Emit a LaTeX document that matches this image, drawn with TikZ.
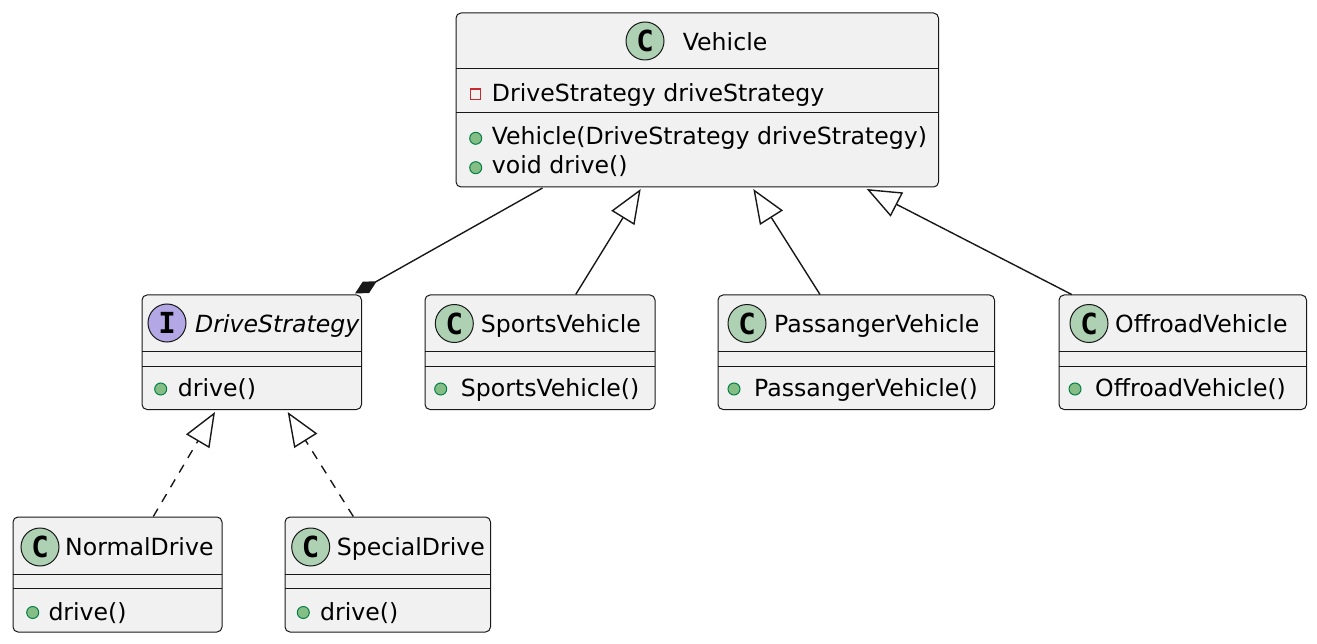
\documentclass[tikz,border=0pt]{standalone}
\usepackage{fontspec}
\setmainfont{DejaVu Sans}
\newfontfamily\markfont{DejaVu Sans Mono}
\usetikzlibrary{arrows.meta,calc}
\definecolor{boxfill}{HTML}{F1F1F1}
\definecolor{linec}{HTML}{181818}
\definecolor{cfill}{HTML}{ADD1B2}
\definecolor{ifill}{HTML}{B4A7E5}
\definecolor{pubfill}{HTML}{84BE84}
\definecolor{publine}{HTML}{038048}
\definecolor{privline}{HTML}{C82930}
\begin{document}
\begin{tikzpicture}[x=1pt,y=-1pt,
 classbox/.style={draw=linec, fill=boxfill, rounded corners=5pt, line width=1pt, inner sep=0pt, anchor=north west},
 sep/.style={draw=linec, line width=1pt},
 badge/.style={circle, draw=linec, line width=1pt, minimum size=38pt, inner sep=0pt, font=\markfont\bfseries\fontsize{29}{29}\selectfont},
 cbadge/.style={badge, fill=cfill},
 ibadge/.style={badge, fill=ifill},
 txt/.style={anchor=base west, inner sep=0pt, font=\fontsize{23.6}{28}\selectfont, text=black},
 pub/.style={circle, draw=publine, fill=pubfill, minimum size=12pt, inner sep=0pt, line width=1pt},
 priv/.style={rectangle, draw=privline, minimum size=10.5pt, inner sep=0pt, line width=1.2pt},
 conn/.style={draw=linec, line width=1.4pt},
 gen/.style={conn, -{Triangle[open, length=34pt, width=27pt]}},
 real/.style={gen, dash pattern=on 9pt off 8pt},
 comp/.style={conn, -{Diamond[length=25pt, width=13pt, fill=linec]}},
]
\useasboundingbox (0,0) rectangle (1317,644);

% ---------- Vehicle ----------
\node[classbox, minimum width=482.5pt, minimum height=174pt] (vehicle) at (455.5,12.5) {};
\draw[sep] (455.5,69) -- (938,69);
\draw[sep] (455.5,113) -- (938,113);
\node[cbadge] (vehB) at (645,41) {C};
\node[txt] (vehT) at (682.7,51) {Vehicle};
\node[priv] (vehA1m) at (475.5,94.3) {};
\node[txt] (vehA1) at (491.7,101.7) {DriveStrategy driveStrategy};
\node[pub] (vehM1m) at (475.7,138.3) {};
\node[txt] (vehM1) at (491.7,144.3) {Vehicle(DriveStrategy driveStrategy)};
\node[pub] (vehM2m) at (475.7,167.7) {};
\node[txt] (vehM2) at (491.7,173.3) {void drive()};

% ---------- DriveStrategy ----------
\node[classbox, minimum width=219.5pt, minimum height=114.5pt] (ds) at (141.5,294.5) {};
\draw[sep] (141.5,351) -- (361,351);
\draw[sep] (141.5,366) -- (361,366);
\node[ibadge] (dsB) at (167,323) {I};
\node[txt, font=\fontsize{23.6}{28}\selectfont\itshape] (dsT) at (195,332.7) {DriveStrategy};
\node[pub] (dsM1m) at (160.7,389) {};
\node[txt] (dsM1) at (177.7,396.5) {drive()};

% ---------- SportsVehicle ----------
\node[classbox, minimum width=230pt, minimum height=114.5pt] (sports) at (424.5,294.5) {};
\draw[sep] (424.5,351) -- (654.5,351);
\draw[sep] (424.5,366) -- (654.5,366);
\node[cbadge] (spB) at (454.3,323.5) {C};
\node[txt] (spT) at (480.7,332.5) {SportsVehicle};
\node[pub] (spM1m) at (440.7,389) {};
\node[txt] (spM1) at (460.7,396) {SportsVehicle()};

% ---------- PassangerVehicle ----------
\node[classbox, minimum width=276.5pt, minimum height=114.5pt] (pass) at (717.5,294.5) {};
\draw[sep] (717.5,351) -- (994,351);
\draw[sep] (717.5,366) -- (994,366);
\node[cbadge] (paB) at (747,323.5) {C};
\node[txt] (paT) at (774,332.5) {PassangerVehicle};
\node[pub] (paM1m) at (734,389) {};
\node[txt] (paM1) at (754,396) {PassangerVehicle()};

% ---------- OffroadVehicle ----------
\node[classbox, minimum width=247.5pt, minimum height=114.5pt] (off) at (1058.5,294.5) {};
\draw[sep] (1058.5,351) -- (1306,351);
\draw[sep] (1058.5,366) -- (1306,366);
\node[cbadge] (ofB) at (1089,323.5) {C};
\node[txt] (ofT) at (1115,332.5) {OffroadVehicle};
\node[pub] (ofM1m) at (1075,389) {};
\node[txt] (ofM1) at (1095,396) {OffroadVehicle()};

% ---------- NormalDrive ----------
\node[classbox, minimum width=209pt, minimum height=115pt] (normal) at (12.5,516.5) {};
\draw[sep] (12.5,574) -- (221.5,574);
\draw[sep] (12.5,588) -- (221.5,588);
\node[cbadge] (noB) at (40,547) {C};
\node[txt] (noT) at (65,555) {NormalDrive};
\node[pub] (noM1m) at (32.7,612.5) {};
\node[txt] (noM1) at (48.3,620) {drive()};

% ---------- SpecialDrive ----------
\node[classbox, minimum width=205.5pt, minimum height=115pt] (special) at (284.5,516.5) {};
\draw[sep] (284.5,574) -- (490,574);
\draw[sep] (284.5,588) -- (490,588);
\node[cbadge] (seB) at (310.7,547) {C};
\node[txt] (seT) at (336.7,555) {SpecialDrive};
\node[pub] (seM1m) at (303.3,612.5) {};
\node[txt] (seM1) at (320,620) {drive()};

% ---------- connectors ----------
\draw[comp] ($(vehicle.south west)+(87,0.5)$) -- ($(ds.north west)+(213.5,-1)$);
\draw[gen] ($(sports.north west)+(151.2,0)$) -- ($(vehicle.south west)+(185.2,1.5)$);
\draw[gen] ($(pass.north west)+(102.5,0)$) -- ($(vehicle.south west)+(297.8,1.5)$);
\draw[gen] ($(off.north west)+(13.2,0)$) -- ($(vehicle.south west)+(411.2,1.5)$);
\draw[real] ($(normal.north west)+(140.8,0)$) -- ($(ds.south west)+(73.5,2)$);
\draw[real] ($(special.north west)+(68.8,0)$) -- ($(ds.south west)+(146.2,2)$);
\end{tikzpicture}
\end{document}
